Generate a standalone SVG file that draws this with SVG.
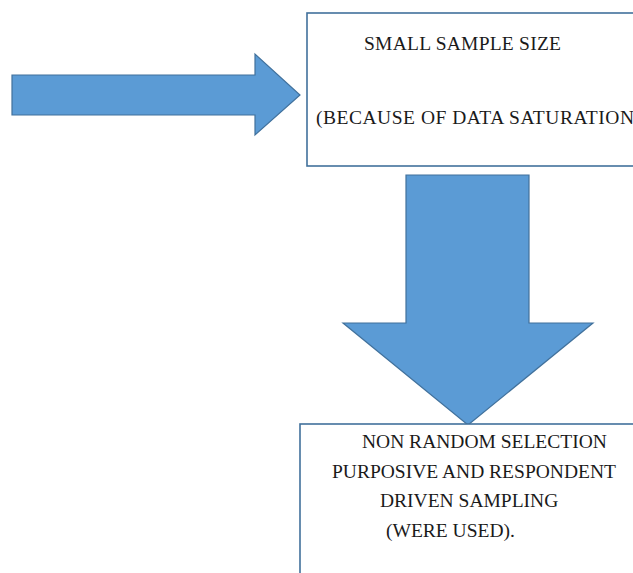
<svg xmlns="http://www.w3.org/2000/svg" width="633" height="573" viewBox="0 0 633 573">
<style>
.arrow{fill:#5B9BD5;stroke:#41719C;stroke-width:1.2;stroke-linejoin:miter}
.box{fill:#ffffff;stroke:#41719C;stroke-width:1.6}
.t{font-family:"Liberation Serif","Times New Roman",serif;font-size:19.5px;fill:#1a1a1a}
</style>
<rect width="633" height="573" fill="#ffffff"/>
<g id="connectors">
<polygon id="arrow-right" class="arrow" points="12,75 255,75 255,54 300,95 255,135 255,115 12,115"/>
<polygon id="arrow-down" class="arrow" points="406,175 529,175 529,323 593,323 468,425 343,323 406,323"/>
</g>
<g id="node-sample-size">
<rect class="box" x="307" y="13" width="340" height="153"/>
<text class="t" x="364" y="50" textLength="197" lengthAdjust="spacing">SMALL SAMPLE SIZE</text>
<text class="t" x="316" y="124" textLength="318" lengthAdjust="spacing">(BECAUSE OF DATA SATURATION</text>
</g>
<g id="node-selection">
<rect class="box" x="300" y="424" width="350" height="160"/>
<text class="t" x="362" y="448">NON RANDOM SELECTION</text>
<text class="t" x="332" y="478">PURPOSIVE AND RESPONDENT</text>
<text class="t" x="380" y="507">DRIVEN SAMPLING</text>
<text class="t" x="386" y="537">(WERE USED).</text>
</g>
</svg>
